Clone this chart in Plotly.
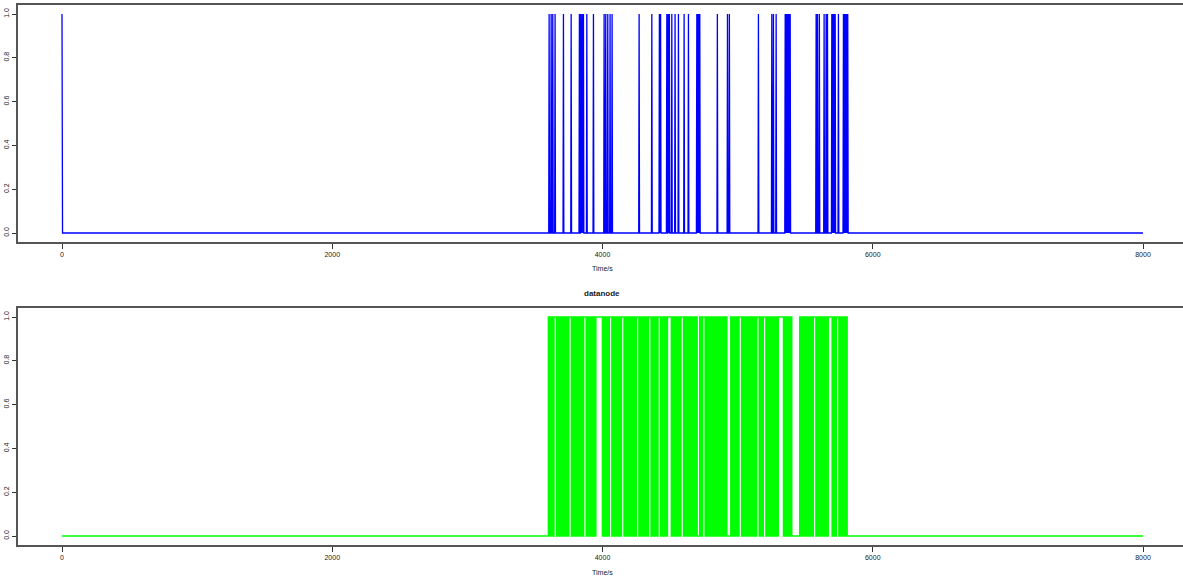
import plotly.graph_objects as go

# ---- data -------------------------------------------------------------
# top panel: instants (s) at which the signal jumps to 1
blue_start_spike = 0
blue_spikes = [
    3605, 3620, 3632, 3649, 3711, 3768, 3829, 3839, 3849, 3859, 3884, 3933,
    4012, 4024, 4039, 4056, 4071, 4271, 4365, 4421, 4430, 4476, 4486, 4495,
    4513, 4537, 4562, 4604, 4636, 4698, 4705, 4712, 4720, 4850, 4925, 4939,
    5154, 5253, 5265, 5285, 5352, 5358, 5364, 5370, 5376, 5382, 5389,
    5581, 5591, 5605, 5640, 5655, 5665, 5697, 5703, 5709, 5716, 5722, 5746,
    5783, 5790, 5796, 5802, 5808, 5815,
]
blue_end = 8000

# bottom panel "datanode": 0/1 state sampled every 10 s from 3590 s
green_t0 = 3590
green_dt = 10
green_bits = (
    "0101011010" "1010101101" "0101010110" "1010101"   # 3590-3950
    "1111"                                            # 3960-3990
    "01010"                                           # 4000-4040
    "11"                                              # 4050-4060
    "0101010110" "1010101011" "0101010"               # 4070-4330
    "11"                                              # 4340-4350
    "01010"                                           # 4360-4400
    "11"                                              # 4410-4420
    "01010"                                           # 4430-4470
    "111"                                             # 4480-4500
    "0101010110" "1010101010" "0101101010" "1010101010" "1"  # 4510-4910
    "000"                                             # 4920-4940
    "1010101101" "0101010101" "1010110101" "01010"    # 4950-5290
    "1111"                                            # 5300-5330
    "0101010"                                         # 5340-5400
    "00000"                                           # 5410-5450
    "1010101010" "1101010101" "0"                     # 5460-5660
    "111"                                             # 5670-5690
    "0101101010" "10"                                 # 5700-5810
)
green_end = 8000

x_ticks = [0, 2000, 4000, 6000, 8000]
y_ticks = [0.0, 0.2, 0.4, 0.6, 0.8, 1.0]

# ---- build the line series --------------------------------------------
bx, by = [blue_start_spike], [1]
bx.append(blue_start_spike + 4); by.append(0)
for s in blue_spikes:
    bx += [s - 3, s, s + 3]
    by += [0, 1, 0]
bx.append(blue_end); by.append(0)

gx, gy = [0], [0]
for i, b in enumerate(green_bits):
    gx.append(green_t0 + i * green_dt)
    gy.append(int(b))
gx.append(green_end); gy.append(0)

# ---- figure -----------------------------------------------------------
W, H = 1183, 578
FONT = "Liberation Sans"
AX = "#555555"

fig = go.Figure()
fig.add_trace(go.Scatter(x=bx, y=by, mode="lines",
                         line=dict(color="#0000ff", width=1.3),
                         xaxis="x", yaxis="y", hoverinfo="skip"))
fig.add_trace(go.Scatter(x=gx, y=gy, mode="lines",
                         line=dict(color="#00ff00", width=1.6, shape="hv"),
                         xaxis="x2", yaxis="y2", hoverinfo="skip"))

xr = [-325.6, 8296]
yr = [-0.0411, 1.0411]
left = 18 / W

def xaxis(anchor):
    return dict(domain=[left, 1.0], range=xr, anchor=anchor,
                tickvals=x_ticks, ticktext=[str(v) for v in x_ticks],
                ticks="outside", ticklen=5, tickwidth=1, tickcolor="#333",
                showline=True, linecolor=AX, linewidth=1.6, mirror=True,
                showgrid=False, zeroline=False,
                tickfont=dict(family=FONT, size=7, color="#222"))

def yaxis(anchor, top_px, bot_px):
    return dict(domain=[(H - bot_px) / H, (H - top_px) / H], range=yr,
                anchor=anchor, tickvals=y_ticks,
                ticktext=[f"{v:.1f}" for v in y_ticks],
                tickangle=-90,
                ticks="outside", ticklen=4, tickwidth=1, tickcolor="#333",
                showline=True, linecolor=AX, linewidth=1.6, mirror=False,
                showgrid=False, zeroline=False,
                tickfont=dict(family=FONT, size=7, color="#222"))

fig.update_layout(
    width=W, height=H,
    margin=dict(l=0, r=0, t=0, b=0),
    paper_bgcolor="white", plot_bgcolor="white",
    showlegend=False,
    xaxis=xaxis("y"),
    yaxis=yaxis("x", 5, 242),
    xaxis2=xaxis("y2"),
    yaxis2=yaxis("x2", 308, 545),
    annotations=[
        dict(text="Time/s", x=602 / W, y=(H - 268) / H, xref="paper", yref="paper",
             showarrow=False, font=dict(family=FONT, size=7, color="#222"),
             xanchor="center", yanchor="middle"),
        dict(text="Time/s", x=602 / W, y=(H - 572) / H, xref="paper", yref="paper",
             showarrow=False, font=dict(family=FONT, size=7, color="#222"),
             xanchor="center", yanchor="middle"),
        dict(text="<b>datanode</b>", x=602 / W, y=(H - 293) / H, xref="paper",
             yref="paper", showarrow=False,
             font=dict(family=FONT, size=8, color="#222"),
             xanchor="center", yanchor="middle"),
    ],
)

fig.write_html("out.html")
